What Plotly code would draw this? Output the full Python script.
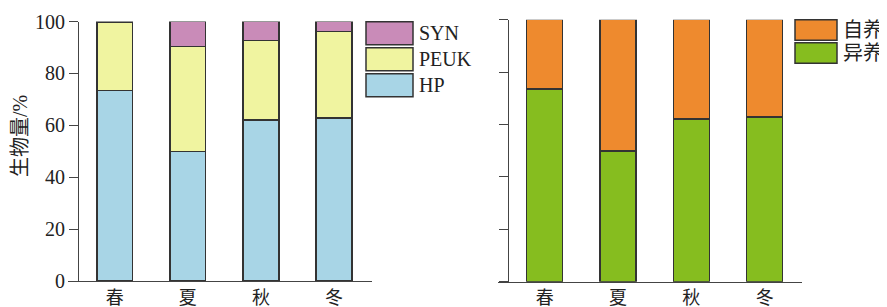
import plotly.graph_objects as go

W, H = 887, 307
OX, OY = 8, 8  # page body margin offset

seasons = ["春", "夏", "秋", "冬"]
hp = [73.5, 49.9, 62.0, 62.8]
peuk = [26.2, 40.5, 30.6, 33.4]
syn = [0.3, 9.6, 7.4, 3.8]
hetero = [73.6, 49.9, 62.1, 62.8]
auto = [26.4, 50.1, 37.9, 37.2]
y_ticks = [0, 20, 40, 60, 80, 100]

left_names = ["SYN", "PEUK", "HP"]
left_colors = ["#C98BB8", "#F0F4A0", "#A8D5E6"]
right_names = ["自养", "异养"]
right_colors = ["#EE8A2E", "#86BD1F"]

FONT = "Liberation Serif, Times New Roman, Noto Sans CJK SC, serif"
LINE = "#333333"

def px(x):
    return (x - OX) / W

def py(y):
    return 1 - (y - OY) / H

fig = go.Figure()
bw = 0.49
fig.add_trace(go.Bar(x=seasons, y=hp, name="HP", marker=dict(color=left_colors[2], line=dict(color=LINE, width=1.5)), width=bw, xaxis="x", yaxis="y"))
fig.add_trace(go.Bar(x=seasons, y=peuk, name="PEUK", marker=dict(color=left_colors[1], line=dict(color=LINE, width=1.5)), width=bw, xaxis="x", yaxis="y"))
fig.add_trace(go.Bar(x=seasons, y=syn, name="SYN", marker=dict(color=left_colors[0], line=dict(color=LINE, width=1.5)), width=bw, xaxis="x", yaxis="y"))
fig.add_trace(go.Bar(x=seasons, y=hetero, name="异养", marker=dict(color=right_colors[1], line=dict(color=LINE, width=1.5)), width=bw, xaxis="x2", yaxis="y2"))
fig.add_trace(go.Bar(x=seasons, y=auto, name="自养", marker=dict(color=right_colors[0], line=dict(color=LINE, width=1.5)), width=bw, xaxis="x2", yaxis="y2"))

common_x = dict(type="category", showline=True, linecolor="#444", linewidth=1, ticks="", showgrid=False, zeroline=False,
                automargin=False, tickfont=dict(family=FONT, size=18, color="#222"))
common_y = dict(range=[0, 100], tickvals=y_ticks, showline=True, linecolor="#444", linewidth=1.2, ticks="outside", ticklen=9,
                tickcolor="#444", tickwidth=1, showgrid=False, zeroline=False, automargin=False,
                tickfont=dict(family=FONT, size=20, color="#222"))

shapes = []
annotations = []
for i, (n, c) in enumerate(zip(left_names, left_colors)):
    y0 = 21.7 + i * 26
    shapes.append(dict(type="rect", xref="paper", yref="paper", x0=px(366), x1=px(413), y0=py(y0), y1=py(y0 + 23),
                       fillcolor=c, line=dict(color=LINE, width=1.5)))
    annotations.append(dict(xref="paper", yref="paper", x=px(417), y=py(y0 + 11.5), text=n, showarrow=False,
                            xanchor="left", yanchor="middle", font=dict(family=FONT, size=20, color="#222")))
for i, (n, c) in enumerate(zip(right_names, right_colors)):
    y0 = 19.7 + i * 23
    shapes.append(dict(type="rect", xref="paper", yref="paper", x0=px(795), x1=px(837), y0=py(y0), y1=py(y0 + 20.5),
                       fillcolor=c, line=dict(color=LINE, width=1.5)))
    annotations.append(dict(xref="paper", yref="paper", x=px(841), y=py(y0 + 10.5), text=n, showarrow=False,
                            xanchor="left", yanchor="middle", font=dict(family=FONT, size=20, color="#222")))

annotations.append(dict(xref="paper", yref="paper", x=px(20), y=py(136), text="生物量/%", textangle=-90, showarrow=False,
                        xanchor="center", yanchor="middle", font=dict(family=FONT, size=20, color="#222")))

fig.update_layout(
    width=W, height=H, autosize=False,
    margin=dict(l=0, r=0, t=0, b=0),
    paper_bgcolor="white", plot_bgcolor="white",
    barmode="stack", showlegend=False,
    xaxis=dict(domain=[px(68), px(371.7)], range=[-0.639, 3.516], anchor="y", **common_x),
    yaxis=dict(domain=[py(281), py(21.5)], anchor="free", position=px(78), **common_y),
    xaxis2=dict(domain=[px(498), px(801.7)], range=[-0.637, 3.505], anchor="y2", **common_x),
    yaxis2=dict(domain=[py(281.7), py(19.7)], anchor="free", position=px(508), showticklabels=False, **common_y),
    shapes=shapes, annotations=annotations,
)

fig.write_html("out.html")
